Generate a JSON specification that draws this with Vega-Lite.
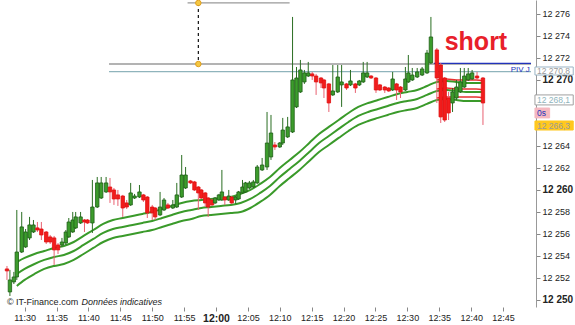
{
"$schema": "https://vega.github.io/schema/vega-lite/v6.json",
"width": 536, "height": 307,
"autosize": {"type": "none"},
"padding": {"left": 0, "top": 0, "right": 39, "bottom": 18},
"background": "white",
"config": {"view": {"stroke": null}, "font": "Liberation Sans", "axis": {"title": null, "labelOverlap": false, "labelBound": false, "labelFlush": false}},
"datasets": {
"candles": [
{"t":687.23,"o":12252.82,"h":12253.09,"l":12251.82,"c":12252.64},
{"t":687.69,"o":12250.73,"h":12252.73,"l":12250.36,"c":12251.82},
{"t":688.31,"o":12251.64,"h":12252.55,"l":12251.45,"c":12252.09},
{"t":688.77,"o":12252.09,"h":12258.18,"l":12251.82,"c":12254.36},
{"t":689.54,"o":12254.36,"h":12258.0,"l":12254.27,"c":12256.64},
{"t":690.15,"o":12254.82,"h":12256.45,"l":12254.73,"c":12256.18},
{"t":690.77,"o":12255.64,"h":12257.55,"l":12255.45,"c":12256.82},
{"t":691.38,"o":12256.18,"h":12257.27,"l":12256.09,"c":12256.82},
{"t":692.0,"o":12256.55,"h":12257.09,"l":12256.18,"c":12256.36},
{"t":692.62,"o":12256.45,"h":12257.09,"l":12255.45,"c":12255.91},
{"t":693.38,"o":12256.18,"h":12256.27,"l":12255.09,"c":12255.27},
{"t":694.0,"o":12255.73,"h":12255.91,"l":12255.09,"c":12255.27},
{"t":694.62,"o":12255.64,"h":12255.82,"l":12253.18,"c":12254.55},
{"t":695.23,"o":12255.0,"h":12255.18,"l":12254.18,"c":12254.55},
{"t":695.85,"o":12255.0,"h":12255.64,"l":12254.82,"c":12255.27},
{"t":696.46,"o":12255.18,"h":12256.36,"l":12255.0,"c":12256.18},
{"t":696.92,"o":12255.73,"h":12257.45,"l":12255.64,"c":12257.09},
{"t":697.54,"o":12256.18,"h":12258.0,"l":12256.09,"c":12257.27},
{"t":698.0,"o":12256.55,"h":12258.0,"l":12256.45,"c":12257.55},
{"t":698.77,"o":12257.0,"h":12258.0,"l":12256.91,"c":12257.55},
{"t":699.38,"o":12257.27,"h":12257.36,"l":12256.18,"c":12257.09},
{"t":699.85,"o":12257.27,"h":12257.36,"l":12256.91,"c":12257.0},
{"t":700.62,"o":12257.0,"h":12260.91,"l":12256.09,"c":12258.45},
{"t":701.38,"o":12258.45,"h":12261.18,"l":12258.36,"c":12260.64},
{"t":702.0,"o":12259.27,"h":12261.18,"l":12259.18,"c":12260.64},
{"t":702.77,"o":12259.82,"h":12261.18,"l":12259.73,"c":12260.64},
{"t":703.38,"o":12260.27,"h":12261.09,"l":12258.82,"c":12259.82},
{"t":704.0,"o":12260.0,"h":12260.18,"l":12258.64,"c":12259.18},
{"t":704.62,"o":12259.55,"h":12260.0,"l":12258.55,"c":12259.18},
{"t":705.38,"o":12259.45,"h":12259.55,"l":12257.55,"c":12258.36},
{"t":706.0,"o":12258.82,"h":12259.09,"l":12258.27,"c":12258.45},
{"t":706.62,"o":12258.64,"h":12260.64,"l":12258.55,"c":12259.73},
{"t":707.23,"o":12259.27,"h":12259.64,"l":12259.18,"c":12259.45},
{"t":708.0,"o":12259.36,"h":12260.45,"l":12259.27,"c":12259.82},
{"t":708.62,"o":12259.55,"h":12259.64,"l":12258.91,"c":12259.09},
{"t":709.23,"o":12259.36,"h":12259.45,"l":12257.45,"c":12257.91},
{"t":710.0,"o":12258.45,"h":12258.64,"l":12257.27,"c":12257.91},
{"t":710.46,"o":12258.36,"h":12258.45,"l":12257.27,"c":12257.55},
{"t":711.23,"o":12257.73,"h":12259.82,"l":12257.64,"c":12258.45},
{"t":711.85,"o":12258.18,"h":12259.27,"l":12258.09,"c":12259.09},
{"t":712.46,"o":12258.64,"h":12258.82,"l":12258.27,"c":12258.36},
{"t":713.23,"o":12258.36,"h":12259.09,"l":12258.27,"c":12258.64},
{"t":713.85,"o":12258.45,"h":12260.64,"l":12258.36,"c":12259.55},
{"t":714.62,"o":12259.36,"h":12263.18,"l":12259.27,"c":12261.36},
{"t":715.23,"o":12260.18,"h":12262.09,"l":12260.09,"c":12261.36},
{"t":716.0,"o":12260.82,"h":12260.91,"l":12260.55,"c":12260.64},
{"t":716.62,"o":12260.73,"h":12260.82,"l":12259.91,"c":12260.0},
{"t":717.23,"o":12260.27,"h":12260.36,"l":12258.18,"c":12259.73},
{"t":717.69,"o":12260.0,"h":12260.09,"l":12259.18,"c":12259.27},
{"t":718.31,"o":12259.73,"h":12259.82,"l":12258.45,"c":12258.82},
{"t":718.77,"o":12259.27,"h":12259.36,"l":12257.55,"c":12258.45},
{"t":719.38,"o":12259.09,"h":12259.18,"l":12258.55,"c":12258.64},
{"t":719.85,"o":12258.82,"h":12259.36,"l":12258.73,"c":12259.27},
{"t":720.46,"o":12259.09,"h":12259.64,"l":12259.0,"c":12259.55},
{"t":720.92,"o":12259.09,"h":12261.82,"l":12259.0,"c":12259.82},
{"t":721.38,"o":12259.36,"h":12259.45,"l":12258.64,"c":12259.09},
{"t":722.0,"o":12259.09,"h":12260.0,"l":12259.0,"c":12259.45},
{"t":722.46,"o":12259.36,"h":12259.45,"l":12258.73,"c":12258.82},
{"t":723.08,"o":12259.09,"h":12259.45,"l":12258.73,"c":12259.36},
{"t":723.54,"o":12259.18,"h":12259.91,"l":12259.09,"c":12259.82},
{"t":724.15,"o":12259.73,"h":12260.91,"l":12259.64,"c":12260.27},
{"t":724.62,"o":12259.82,"h":12260.73,"l":12259.73,"c":12260.64},
{"t":725.23,"o":12260.18,"h":12260.82,"l":12260.09,"c":12260.64},
{"t":725.85,"o":12260.27,"h":12260.91,"l":12260.18,"c":12260.73},
{"t":726.46,"o":12260.64,"h":12262.27,"l":12260.55,"c":12262.09},
{"t":727.23,"o":12261.82,"h":12262.91,"l":12261.73,"c":12262.27},
{"t":728.0,"o":12262.09,"h":12267.09,"l":12261.82,"c":12264.27},
{"t":728.62,"o":12263.0,"h":12266.82,"l":12262.73,"c":12265.18},
{"t":729.23,"o":12264.09,"h":12264.36,"l":12263.64,"c":12263.91},
{"t":730.0,"o":12263.91,"h":12264.36,"l":12263.82,"c":12264.27},
{"t":730.46,"o":12264.27,"h":12266.55,"l":12264.09,"c":12265.45},
{"t":731.23,"o":12264.82,"h":12266.64,"l":12264.73,"c":12265.73},
{"t":732.0,"o":12265.27,"h":12275.73,"l":12265.18,"c":12270.0},
{"t":732.62,"o":12267.55,"h":12271.18,"l":12267.45,"c":12270.18},
{"t":733.23,"o":12268.91,"h":12271.82,"l":12268.82,"c":12270.91},
{"t":733.85,"o":12269.82,"h":12270.91,"l":12269.64,"c":12270.64},
{"t":734.46,"o":12270.36,"h":12271.64,"l":12270.27,"c":12270.64},
{"t":735.08,"o":12270.55,"h":12270.73,"l":12270.0,"c":12270.36},
{"t":735.69,"o":12270.36,"h":12270.55,"l":12268.64,"c":12269.82},
{"t":736.46,"o":12270.18,"h":12270.27,"l":12269.27,"c":12269.73},
{"t":736.92,"o":12270.0,"h":12270.09,"l":12268.36,"c":12269.27},
{"t":737.69,"o":12269.64,"h":12269.73,"l":12267.09,"c":12267.91},
{"t":738.31,"o":12268.64,"h":12271.36,"l":12268.55,"c":12269.0},
{"t":739.08,"o":12268.91,"h":12271.36,"l":12268.82,"c":12270.27},
{"t":739.69,"o":12269.55,"h":12271.36,"l":12267.55,"c":12269.82},
{"t":740.46,"o":12269.64,"h":12269.73,"l":12269.09,"c":12269.27},
{"t":741.08,"o":12269.55,"h":12270.91,"l":12269.45,"c":12269.91},
{"t":741.85,"o":12269.64,"h":12269.73,"l":12268.82,"c":12269.27},
{"t":742.46,"o":12269.55,"h":12270.0,"l":12269.45,"c":12269.91},
{"t":743.08,"o":12269.82,"h":12271.64,"l":12269.73,"c":12270.64},
{"t":743.69,"o":12270.27,"h":12271.64,"l":12270.18,"c":12270.64},
{"t":744.31,"o":12270.36,"h":12270.45,"l":12270.09,"c":12270.18},
{"t":745.08,"o":12270.18,"h":12270.27,"l":12268.82,"c":12269.09},
{"t":745.69,"o":12269.55,"h":12269.64,"l":12269.0,"c":12269.09},
{"t":746.46,"o":12269.36,"h":12269.45,"l":12268.82,"c":12269.09},
{"t":747.08,"o":12269.27,"h":12269.36,"l":12268.91,"c":12269.0},
{"t":747.69,"o":12269.09,"h":12270.73,"l":12269.0,"c":12270.09},
{"t":748.31,"o":12269.64,"h":12269.73,"l":12268.18,"c":12269.09},
{"t":748.92,"o":12269.36,"h":12269.45,"l":12268.36,"c":12268.91},
{"t":749.69,"o":12269.09,"h":12271.18,"l":12269.0,"c":12270.09},
{"t":750.15,"o":12269.82,"h":12272.27,"l":12269.73,"c":12270.64},
{"t":750.77,"o":12270.0,"h":12271.09,"l":12269.91,"c":12270.45},
{"t":751.54,"o":12270.27,"h":12271.09,"l":12270.18,"c":12270.73},
{"t":752.31,"o":12270.45,"h":12271.18,"l":12270.36,"c":12271.0},
{"t":753.08,"o":12270.64,"h":12272.73,"l":12270.55,"c":12272.45},
{"t":753.69,"o":12271.55,"h":12275.73,"l":12271.45,"c":12273.91},
{"t":754.62,"o":12272.73,"h":12272.91,"l":12267.91,"c":12270.18},
{"t":755.23,"o":12271.36,"h":12271.55,"l":12266.09,"c":12266.64},
{"t":755.85,"o":12270.18,"h":12270.27,"l":12266.18,"c":12266.36},
{"t":756.46,"o":12268.36,"h":12268.91,"l":12266.36,"c":12267.0},
{"t":757.08,"o":12267.91,"h":12269.27,"l":12267.09,"c":12268.91},
{"t":757.69,"o":12268.36,"h":12270.0,"l":12268.18,"c":12269.36},
{"t":758.31,"o":12268.91,"h":12271.09,"l":12268.82,"c":12269.82},
{"t":758.92,"o":12269.36,"h":12271.09,"l":12269.27,"c":12270.36},
{"t":759.54,"o":12270.0,"h":12271.09,"l":12269.91,"c":12270.55},
{"t":760.15,"o":12270.09,"h":12270.91,"l":12270.0,"c":12270.64},
{"t":760.92,"o":12270.36,"h":12270.73,"l":12270.0,"c":12270.18},
{"t":761.85,"o":12270.18,"h":12270.27,"l":12265.91,"c":12267.91}
],
"bands": [
{"t":688.77,"u":12253.45,"m":12252.36,"d":12251.27},
{"t":690.0,"u":12253.82,"m":12252.82,"d":12251.82},
{"t":691.54,"u":12254.18,"m":12253.27,"d":12252.36},
{"t":693.08,"u":12254.45,"m":12253.64,"d":12252.82},
{"t":694.62,"u":12254.73,"m":12253.91,"d":12253.09},
{"t":696.15,"u":12254.91,"m":12254.09,"d":12253.27},
{"t":697.69,"u":12255.27,"m":12254.45,"d":12253.64},
{"t":699.23,"u":12255.82,"m":12255.0,"d":12254.18},
{"t":700.77,"u":12256.36,"m":12255.55,"d":12254.73},
{"t":702.31,"u":12256.91,"m":12256.09,"d":12255.27},
{"t":703.85,"u":12257.27,"m":12256.45,"d":12255.64},
{"t":705.38,"u":12257.45,"m":12256.64,"d":12255.82},
{"t":706.92,"u":12257.64,"m":12256.82,"d":12256.0},
{"t":708.46,"u":12257.82,"m":12257.0,"d":12256.18},
{"t":710.0,"u":12258.0,"m":12257.18,"d":12256.36},
{"t":711.54,"u":12258.27,"m":12257.45,"d":12256.64},
{"t":713.08,"u":12258.55,"m":12257.73,"d":12256.91},
{"t":714.62,"u":12258.82,"m":12258.0,"d":12257.18},
{"t":716.15,"u":12259.0,"m":12258.18,"d":12257.36},
{"t":717.69,"u":12259.09,"m":12258.36,"d":12257.64},
{"t":719.23,"u":12259.18,"m":12258.45,"d":12257.73},
{"t":720.77,"u":12259.27,"m":12258.55,"d":12257.82},
{"t":722.31,"u":12259.36,"m":12258.64,"d":12257.91},
{"t":723.85,"u":12259.64,"m":12258.82,"d":12258.0},
{"t":725.38,"u":12260.0,"m":12259.18,"d":12258.36},
{"t":726.92,"u":12260.55,"m":12259.73,"d":12258.91},
{"t":728.46,"u":12261.18,"m":12260.36,"d":12259.55},
{"t":730.0,"u":12262.0,"m":12261.18,"d":12260.36},
{"t":731.54,"u":12262.73,"m":12261.91,"d":12261.09},
{"t":733.08,"u":12263.45,"m":12262.64,"d":12261.82},
{"t":734.62,"u":12264.27,"m":12263.45,"d":12262.64},
{"t":736.15,"u":12265.09,"m":12264.27,"d":12263.45},
{"t":737.69,"u":12265.73,"m":12264.91,"d":12264.09},
{"t":739.23,"u":12266.36,"m":12265.55,"d":12264.73},
{"t":740.77,"u":12267.0,"m":12266.18,"d":12265.36},
{"t":742.31,"u":12267.55,"m":12266.73,"d":12265.91},
{"t":743.85,"u":12267.91,"m":12267.09,"d":12266.27},
{"t":745.38,"u":12268.18,"m":12267.36,"d":12266.55},
{"t":746.92,"u":12268.45,"m":12267.64,"d":12266.82},
{"t":748.46,"u":12268.73,"m":12267.91,"d":12267.09},
{"t":750.0,"u":12268.91,"m":12268.09,"d":12267.27},
{"t":751.54,"u":12269.09,"m":12268.27,"d":12267.45},
{"t":753.08,"u":12269.45,"m":12268.64,"d":12267.82},
{"t":754.62,"u":12269.82,"m":12269.0,"d":12268.18},
{"t":756.15,"u":12269.91,"m":12269.09,"d":12268.27},
{"t":757.69,"u":12269.82,"m":12269.0,"d":12268.18},
{"t":759.23,"u":12269.73,"m":12268.91,"d":12268.09},
{"t":760.77,"u":12269.73,"m":12268.91,"d":12268.09},
{"t":762.0,"u":12269.73,"m":12268.91,"d":12268.09}
],
"redbands": [
{"t":754.62,"u":12270.0,"m":12269.18,"d":12268.36},
{"t":756.15,"u":12270.09,"m":12269.27,"d":12268.45},
{"t":757.69,"u":12270.0,"m":12269.18,"d":12268.45},
{"t":759.23,"u":12270.0,"m":12269.18,"d":12268.45},
{"t":760.77,"u":12270.0,"m":12269.18,"d":12268.45},
{"t":762.0,"u":12269.91,"m":12269.09,"d":12268.36}
],
"hlines": [
{"t":703.23,"t2":769.38,"p":12271.45,"kind":"gray"},
{"t":703.23,"t2":769.38,"p":12270.75,"kind":"teal"},
{"t":715.54,"t2":731.54,"p":12277.0,"kind":"gray"},
{"t":754.15,"t2":769.38,"p":12271.5,"kind":"blue"}
],
"marker": [
{"t":717.23,"p":12277.0},
{"t":717.23,"p":12271.45}
],
"boxes": [
{"t":770.0,"t2":776.0,"p":12271.18,"p2":12270.45,"pm":12270.8,"label":"12 270,8","kind":"last"},
{"t":770.0,"t2":776.0,"p":12268.64,"p2":12267.73,"pm":12268.18,"label":"12 268,1","kind":"plain"},
{"t":770.0,"t2":772.3,"p":12267.45,"p2":12266.55,"pm":12267.0,"label":"0s","kind":"pink"},
{"t":770.0,"t2":776.0,"p":12266.27,"p2":12265.45,"pm":12265.86,"label":"12 266,3","kind":"yellow"}
],
"notes": [
{"t":769.2,"p":12270.95,"label":"PIV J","kind":"piv"},
{"t":755.85,"p":12272.73,"label":"short","kind":"short"},
{"t":687.23,"p":12249.8,"label":"© IT-Finance.com","kind":"copy"},
{"t":698.92,"p":12249.8,"label":"Données indicatives","kind":"note"}
]
},
"encoding": {
"x": {"field": "t", "type": "quantitative", "scale": {"domain": [686.92, 769.38], "nice": false, "zero": false},
"axis": {"values": [690,695,700,705,710,715,720,725,730,735,740,745,750,755,760,765],
"labelExpr": "floor(datum.value/60) + ':' + (datum.value%60 < 10 ? '0' : '') + (datum.value%60)",
"labelFontWeight": {"condition": {"test": "datum.value == 720", "value": "bold"}, "value": "normal"},
"labelFontSize": {"condition": {"test": "datum.value == 720", "value": 10.5}, "value": 9},
"title": null, "grid": false, "domain": false, "tickSize": 4, "tickColor": "#888", "labelColor": "#222", "labelPadding": 2, "labelOverlap": false, "labelFlush": false}},
"y": {"field": "p", "type": "quantitative", "scale": {"domain": [12249.36, 12277.27], "nice": false, "zero": false},
"axis": {"orient": "right", "values": [12250,12252,12254,12256,12258,12260,12262,12264,12270,12272,12274,12276],
"labelExpr": "replace(datum.label, ',', ' ')",
"labelFontWeight": {"condition": {"test": "datum.value % 10 == 0", "value": "bold"}, "value": "normal"},
"labelFontSize": {"condition": {"test": "datum.value % 10 == 0", "value": 10}, "value": 9},
"title": null, "grid": false, "domainColor": "#999", "tickSize": 4, "tickColor": "#888", "labelColor": "#222", "labelPadding": 2, "labelOverlap": false, "labelFlush": false}}
},
"layer": [
{
"data": {"name": "bands"},
"transform": [{"fold": ["u", "m", "d"], "as": ["line", "p"]}],
"mark": {"type": "line", "color": "#3a9a2a", "strokeWidth": 2, "interpolate": "monotone"},
"encoding": {"detail": {"field": "line", "type": "nominal"}}
},
{
"data": {"name": "redbands"},
"transform": [{"fold": ["u", "m", "d"], "as": ["line", "p"]}],
"mark": {"type": "line", "color": "#e83030", "strokeWidth": 1.5, "interpolate": "monotone"},
"encoding": {"detail": {"field": "line", "type": "nominal"}}
},
{
"data": {"name": "hlines"},
"mark": {"type": "rule", "strokeWidth": 1.3},
"encoding": {
"x2": {"field": "t2"},
"color": {"field": "kind", "type": "nominal", "scale": {"domain": ["gray", "teal", "blue"], "range": ["#9a9a9a", "#8fb4bc", "#2233bb"]}, "legend": null}
}
},
{
"data": {"name": "marker"},
"mark": {"type": "line", "color": "#111", "strokeWidth": 1.2, "strokeDash": [3, 3]},
"encoding": {}
},
{
"data": {"name": "marker"},
"mark": {"type": "point", "filled": true, "size": 30, "color": "#f5c842", "stroke": "#e0a020", "strokeWidth": 1, "opacity": 1}
},
{
"data": {"name": "candles"},
"transform": [{"fold": ["l"], "as": ["k", "p"]}],
"mark": {"type": "rule", "strokeWidth": 1},
"encoding": {
"y2": {"field": "h"},
"color": {"condition": {"test": "datum.c < datum.o", "value": "#e86070"}, "value": "#2a6e22"}
}
},
{
"data": {"name": "candles"},
"transform": [{"fold": ["o"], "as": ["k", "p"]}],
"mark": {"type": "bar", "size": 3.4, "strokeWidth": 0.8},
"encoding": {
"y2": {"field": "c"},
"fill": {"condition": {"test": "datum.c < datum.o", "value": "#f21c1c"}, "value": "#3c9c2c"},
"stroke": {"condition": {"test": "datum.c < datum.o", "value": "#e01010"}, "value": "#1e5e16"}
}
},
{
"data": {"name": "boxes"},
"mark": {"type": "rect", "strokeWidth": 1},
"encoding": {
"x2": {"field": "t2"},
"y2": {"field": "p2"},
"fill": {"field": "kind", "type": "nominal", "scale": {"domain": ["last", "plain", "pink", "yellow"], "range": ["#ffffff", "#ffffff", "#f5b8c0", "#ffc81e"]}, "legend": null},
"stroke": {"field": "kind", "type": "nominal", "scale": {"domain": ["last", "plain", "pink", "yellow"], "range": ["#9ab4c4", "#a0a0a0", "#f5b8c0", "#ffc81e"]}, "legend": null}
}
},
{
"data": {"name": "boxes"},
"transform": [{"fold": ["pm"], "as": ["k", "p"]}],
"mark": {"type": "text", "align": "left", "baseline": "middle", "dx": 2, "fontSize": 8.5},
"encoding": {
"text": {"field": "label"},
"color": {"field": "kind", "type": "nominal", "scale": {"domain": ["last", "plain", "pink", "yellow"], "range": ["#3a8090", "#555555", "#333333", "#333333"]}, "legend": null}
}
},
{
"data": {"name": "notes"},
"transform": [{"filter": "datum.kind == 'piv'"}],
"mark": {"type": "text", "align": "right", "baseline": "middle", "fontSize": 8, "color": "#2233bb"},
"encoding": {"text": {"field": "label"}}
},
{
"data": {"name": "notes"},
"transform": [{"filter": "datum.kind == 'short'"}],
"mark": {"type": "text", "align": "left", "baseline": "alphabetic", "fontSize": 25, "fontWeight": "bold", "color": "#e8202a"},
"encoding": {"text": {"field": "label"}}
},
{
"data": {"name": "notes"},
"transform": [{"filter": "datum.kind == 'copy'"}],
"mark": {"type": "text", "align": "left", "baseline": "middle", "fontSize": 9, "color": "#222"},
"encoding": {"text": {"field": "label"}}
},
{
"data": {"name": "notes"},
"transform": [{"filter": "datum.kind == 'note'"}],
"mark": {"type": "text", "align": "left", "baseline": "middle", "fontSize": 9, "fontStyle": "italic", "color": "#222"},
"encoding": {"text": {"field": "label"}}
}
]
}
